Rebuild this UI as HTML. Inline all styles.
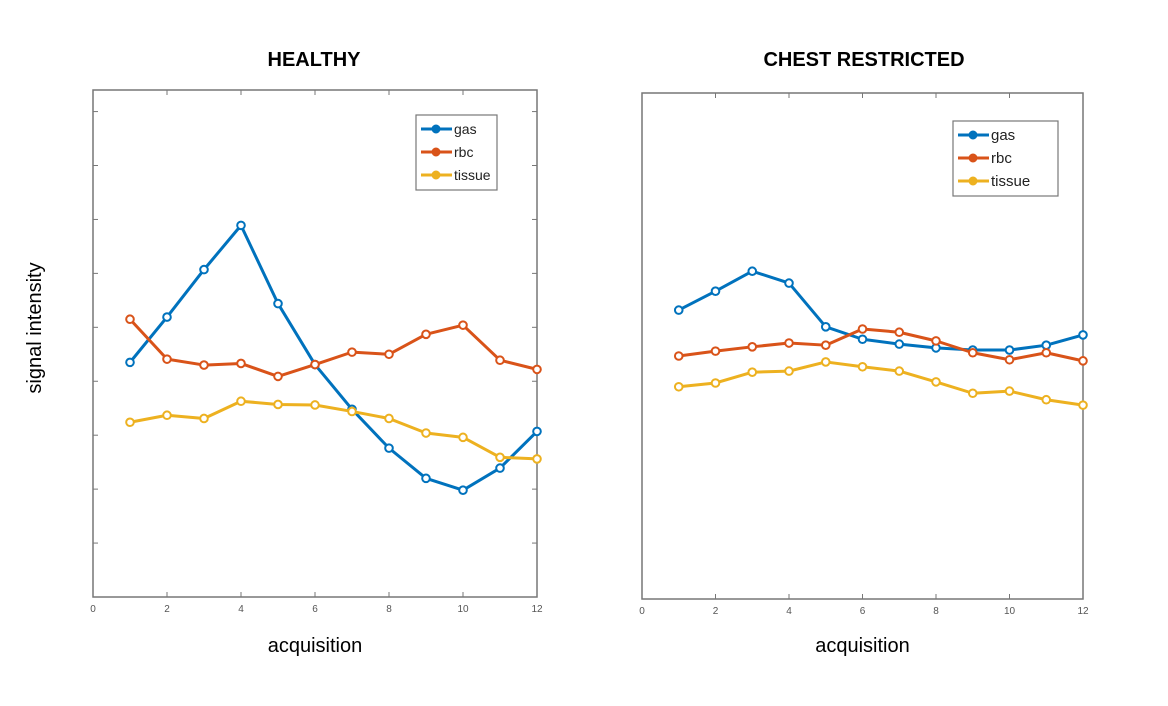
<!DOCTYPE html>
<html><head><meta charset="utf-8"><style>
body{margin:0;background:#fff;}
svg{display:block;font-family:"Liberation Sans",sans-serif;}
</style></head><body>
<svg id="c" width="1168" height="706"></svg>
<script>
const categories=[1,2,3,4,5,6,7,8,9,10,11,12];
const xTicks=[0,2,4,6,8,10,12];
const healthyGas=[4.35,5.19,6.07,6.89,5.44,4.31,3.48,2.76,2.20,1.98,2.39,3.07];
const healthyRbc=[5.15,4.41,4.30,4.33,4.09,4.31,4.54,4.50,4.87,5.04,4.39,4.22];
const healthyTissue=[3.24,3.37,3.31,3.63,3.57,3.56,3.44,3.31,3.04,2.96,2.59,2.56];
const chestGas=[5.35,5.70,6.07,5.85,5.04,4.81,4.72,4.65,4.61,4.61,4.70,4.89];
const chestRbc=[4.50,4.59,4.67,4.74,4.70,5.00,4.94,4.78,4.56,4.43,4.56,4.41];
const chestTissue=[3.93,4.00,4.20,4.22,4.39,4.30,4.22,4.02,3.81,3.85,3.69,3.59];
const seriesNames=["gas","rbc","tissue"];
const colors=["#0072BD","#D95319","#EDB120"];
const NS="http://www.w3.org/2000/svg";
const svg=document.getElementById('c');
function mk(tag,attrs,parent){const e=document.createElementNS(NS,tag);for(const k in attrs)e.setAttribute(k,attrs[k]);(parent||svg).appendChild(e);return e;}
function panel(p){
  const g=mk('g',{});
  
  
  const xs=v=>p.x0+(v/12)*(p.x1-p.x0);
  const ys=v=>p.y0-(v/p.ymax)*(p.y0-p.y1);
  const box=mk('rect',{x:p.x0,y:p.y1,width:p.x1-p.x0,height:p.y0-p.y1,fill:'none',stroke:'#777','stroke-width':1.5},g);
  
  xTicks.forEach(t=>{
    mk('line',{x1:xs(t),x2:xs(t),y1:p.y0,y2:p.y0-5,stroke:'#777'},g);
    mk('line',{x1:xs(t),x2:xs(t),y1:p.y1,y2:p.y1+5,stroke:'#777'},g);
    const tx=mk('text',{x:xs(t),y:p.y0+15,'font-size':10,fill:'#555','text-anchor':'middle'},g);
    tx.textContent=t;
    
  });
  if(p.yticks){for(let v=0;v<=9;v++){mk('line',{x1:p.x0,x2:p.x0+5,y1:ys(v),y2:ys(v),stroke:'#777'},g);mk('line',{x1:p.x1,x2:p.x1-5,y1:ys(v),y2:ys(v),stroke:'#777'},g);}}
  p.series.forEach((s,i)=>{
    const pts=categories.map((c,j)=>xs(c)+','+ys(s[j])).join(' ');
    const l=mk('polyline',{points:pts,fill:'none',stroke:colors[i],'stroke-width':3,'stroke-linejoin':'round'},g);
    
    categories.forEach((c,j)=>{
      const m=mk('circle',{cx:xs(c),cy:ys(s[j]),r:3.8,fill:'#fff',stroke:colors[i],'stroke-width':2},g);
      
    });
  });
  const t=mk('text',{x:p.tx,y:66,'font-size':20,'font-weight':'bold','text-anchor':'middle',fill:'#000'},g);
  t.textContent=p.title;
  const xl=mk('text',{x:(p.x0+p.x1)/2,y:652,'font-size':20,'text-anchor':'middle',fill:'#000'},g);
  xl.textContent='acquisition';
  const lg=mk('g',{},g);
  mk('rect',{x:p.lx,y:p.ly,width:p.lw,height:75,fill:'#fff',stroke:'#777','stroke-width':1.2},lg);
  seriesNames.forEach((n,i)=>{
    const yy=p.ly+14+i*23;
    const e=mk('g',{},lg);
    mk('line',{x1:p.lx+5,x2:p.lx+36,y1:yy,y2:yy,stroke:colors[i],'stroke-width':3},e);
    mk('circle',{cx:p.lx+20,cy:yy,r:4,fill:colors[i],stroke:colors[i]},e);
    const tt=mk('text',{x:p.lx+38,y:yy+5,'font-size':p.fs,fill:'#222'},e);tt.textContent=n;
  });
}
panel({name:'healthy-panel',title:'HEALTHY',tx:314,x0:93,x1:537,y0:597,y1:90,ymax:9.4,yticks:true,series:[healthyGas,healthyRbc,healthyTissue],lx:416,ly:115,lw:81,fs:14});
panel({name:'chest-restricted-panel',title:'CHEST RESTRICTED',tx:864,x0:642,x1:1083,y0:599,y1:93,ymax:9.37,yticks:false,series:[chestGas,chestRbc,chestTissue],lx:953,ly:121,lw:105,fs:15});
const yl=mk('text',{x:0,y:0,'font-size':20,'text-anchor':'middle',fill:'#000',transform:'translate(41,328) rotate(-90)'});
yl.textContent='signal intensity';


</script>
</body></html>
